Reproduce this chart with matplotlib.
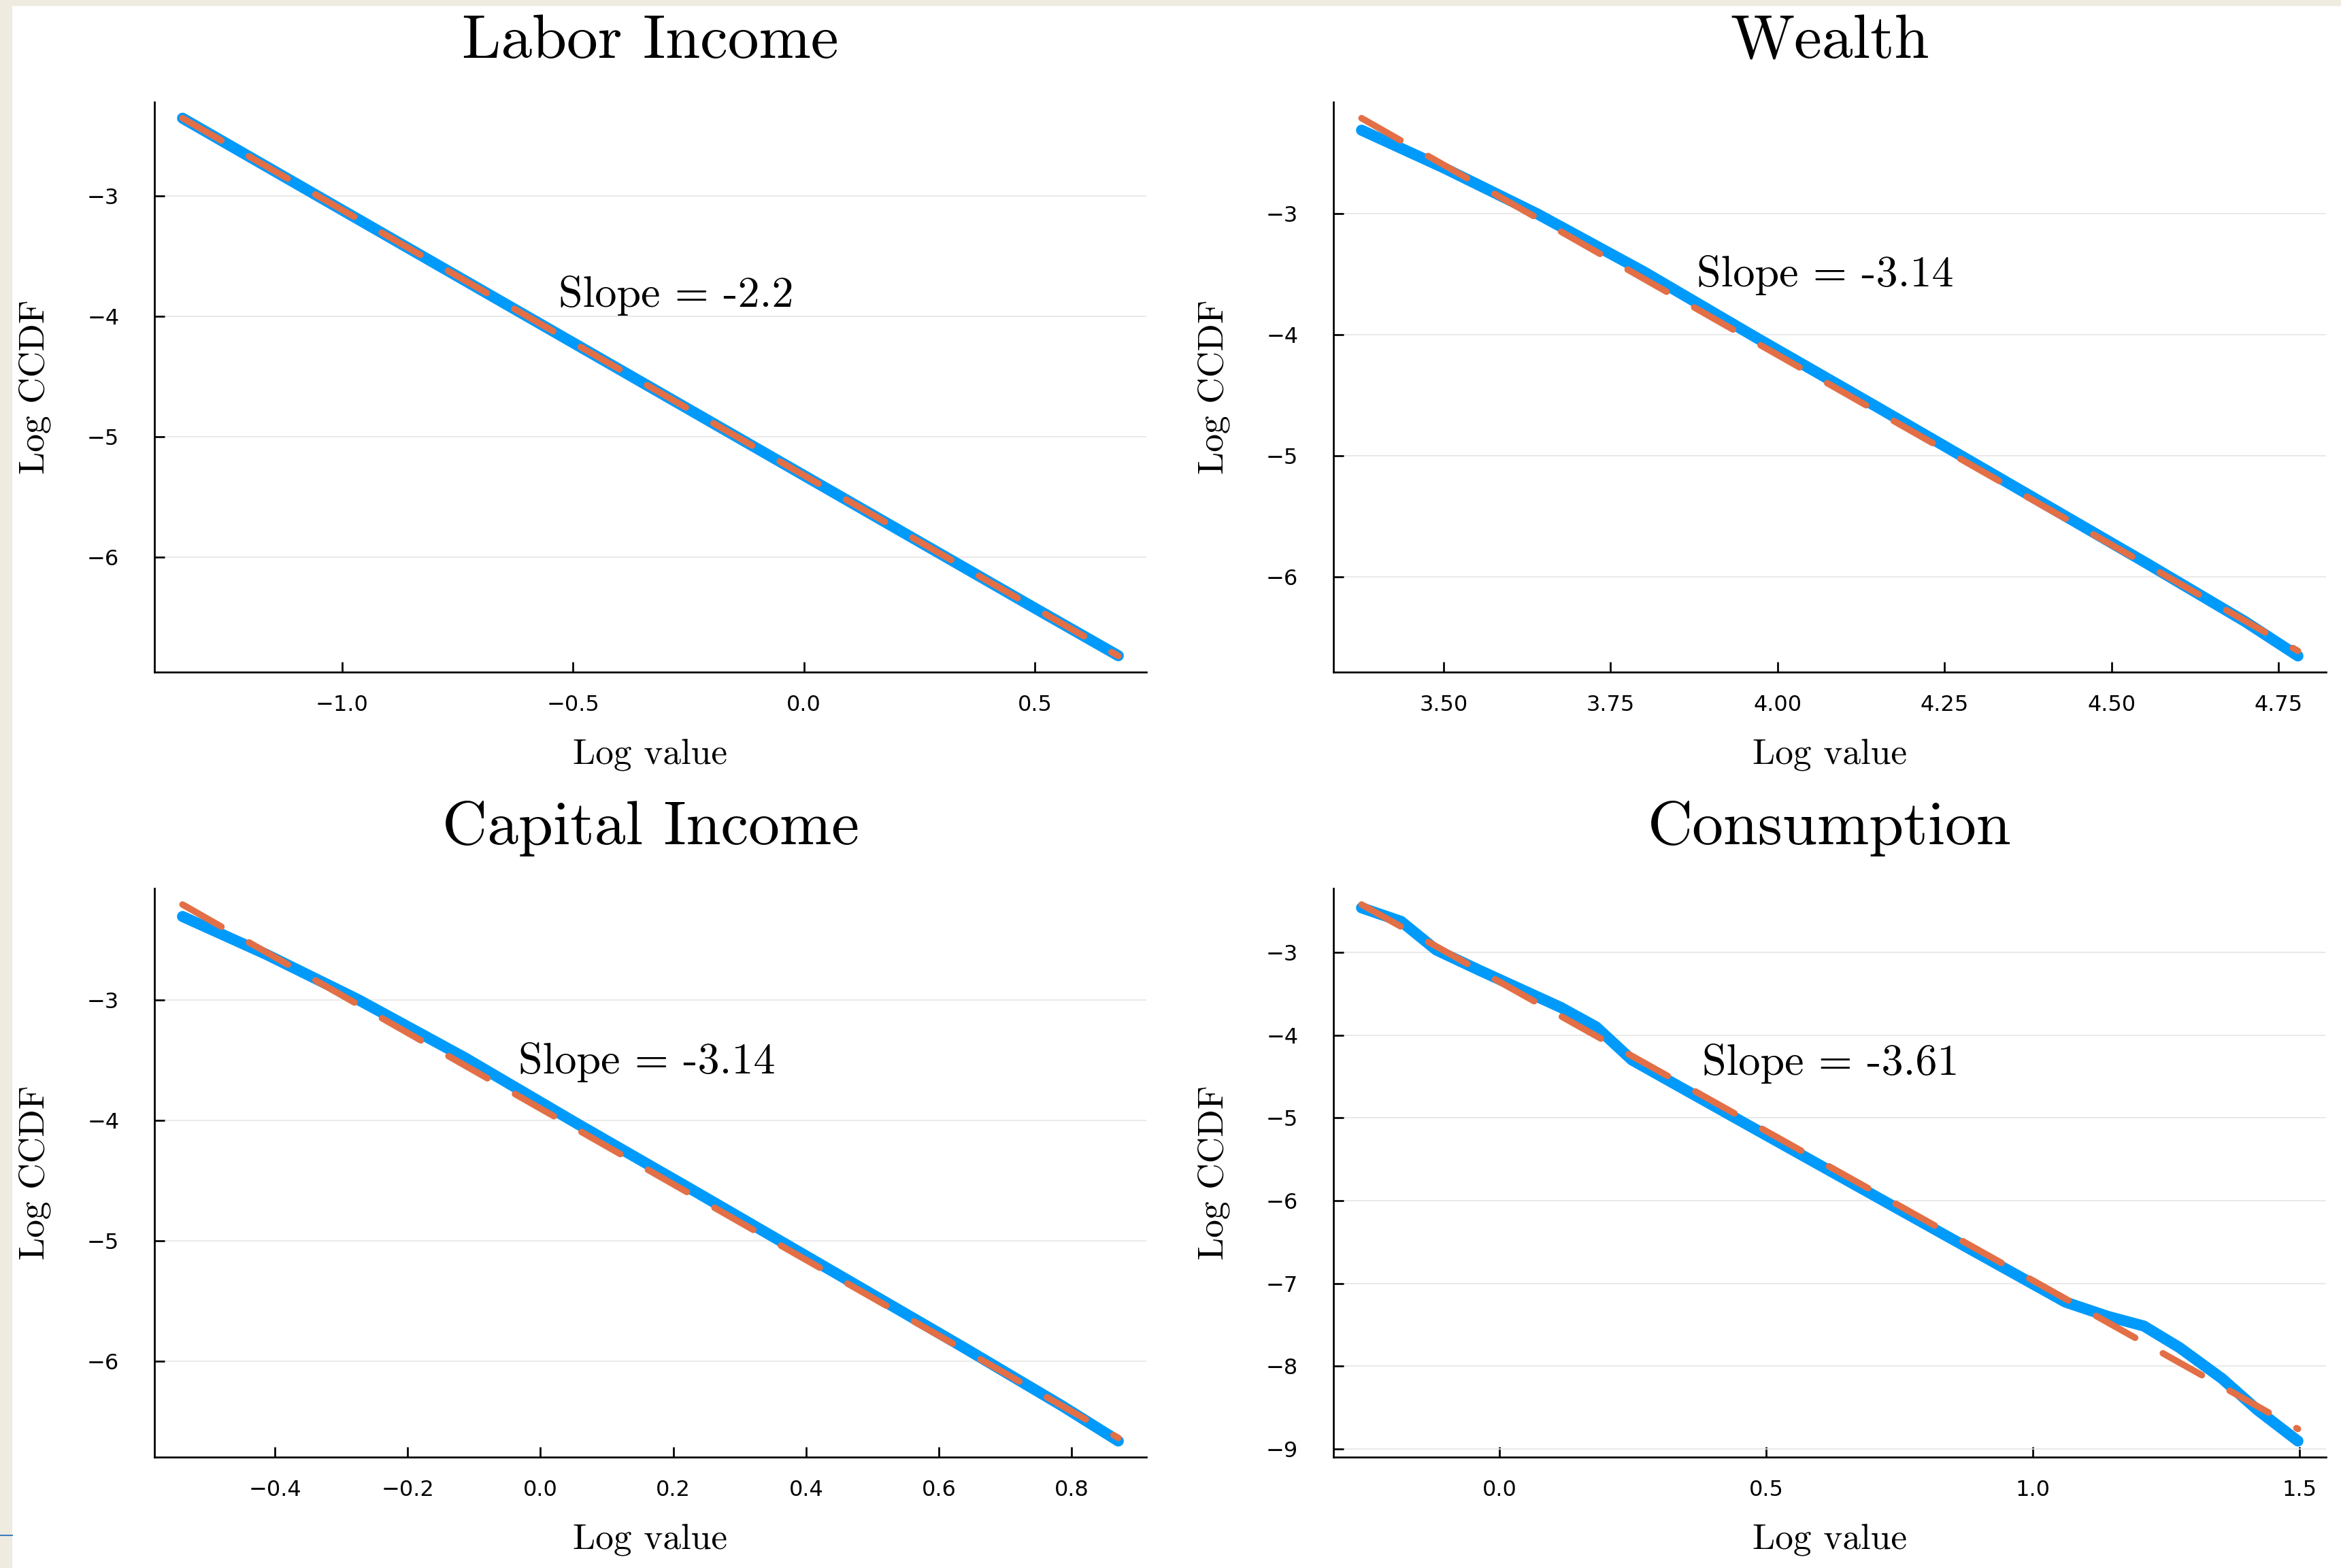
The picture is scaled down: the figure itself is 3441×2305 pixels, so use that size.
import matplotlib.pyplot as plt
from matplotlib.lines import Line2D
from matplotlib.patches import Rectangle

# log value / log CCDF of the simulated cross-section
labor_x = [-1.346, -1.0, -0.5, 0.0, 0.5, 0.681]
labor_y = [-2.358, -3.12, -4.22, -5.32, -6.42, -6.815]

wealth_x = [3.377, 3.50, 3.64, 3.80, 3.97, 4.15, 4.35, 4.55, 4.70, 4.779]
wealth_y = [-2.309, -2.62, -3.00, -3.48, -4.03, -4.60, -5.24, -5.88, -6.37, -6.654]

capital_x = [-0.539, -0.414, -0.274, -0.114, 0.056, 0.236, 0.436, 0.636, 0.786, 0.870]
capital_y = [-2.309, -2.62, -3.00, -3.48, -4.03, -4.60, -5.24, -5.88, -6.37, -6.66]

cons_x = [-0.259, -0.185, -0.119, -0.04, 0.115, 0.181, 0.248, 0.45, 0.65, 0.85,
          1.061, 1.141, 1.208, 1.275, 1.355, 1.421, 1.497]
cons_y = [-2.461, -2.624, -2.97, -3.21, -3.666, -3.90, -4.30, -5.03, -5.75, -6.47,
          -7.227, -7.40, -7.516, -7.777, -8.153, -8.53, -8.906]

# fitted tail lines: slope and intercept
slopes = [-2.2, -3.14, -3.14, -3.61]
intercepts = [-5.319, 8.394, -3.902, -3.356]

titles = ["Labor Income", "Wealth", "Capital Income", "Consumption"]
annot_pos = [(-0.277, -3.827), (4.071, -3.506), (0.160, -3.519), (0.621, -4.344)]
xticks = [[-1.0, -0.5, 0.0, 0.5],
          [3.50, 3.75, 4.00, 4.25, 4.50, 4.75],
          [-0.4, -0.2, 0.0, 0.2, 0.4, 0.6, 0.8],
          [0.0, 0.5, 1.0, 1.5]]
xtick_fmt = ["{:.1f}", "{:.2f}", "{:.1f}", "{:.1f}"]
yticks = [[-3, -4, -5, -6], [-3, -4, -5, -6], [-3, -4, -5, -6],
          [-3, -4, -5, -6, -7, -8, -9]]

series = [(labor_x, labor_y), (wealth_x, wealth_y),
          (capital_x, capital_y), (cons_x, cons_y)]

BLUE = "#009AFA"
ORANGE = "#E26F46"
SERIF = "cmr10"

plt.rcParams["lines.scale_dashes"] = False
plt.rcParams["axes.unicode_minus"] = True

W, H = 3441, 2305
fig = plt.figure(figsize=(W / 300, H / 300), dpi=300, facecolor="#EFEBE0")
fig.add_artist(Rectangle((17.5 / W, 0), 1, 1 - 8.5 / H, transform=fig.transFigure,
                         facecolor="white", edgecolor="none", zorder=-10))
fig.add_artist(Line2D([0, 17.5 / W], [1 - 2256.5 / H] * 2, transform=fig.transFigure,
                      color="#3a7fc0", lw=0.5))

lefts = [227 / W, 1960 / W]
widths = [1458 / W, 1459 / W]
bottoms = [1 - 988 / H, 1 - 2142 / H]
heights = [838 / H, 836 / H]

for i in range(4):
    r, c = divmod(i, 2)
    ax = fig.add_axes([lefts[c], bottoms[r], widths[c], heights[r]])
    x, y = series[i]
    ax.plot(x, y, color=BLUE, lw=3.9, solid_capstyle="round", solid_joinstyle="round")
    fx = [x[0], x[-1]]
    fy = [intercepts[i] + slopes[i] * v for v in fx]
    ax.plot(fx, fy, color=ORANGE, lw=2.3, dashes=(15.8, 11.2), dash_capstyle="round")
    ax.margins(0.03)

    ax.text(*annot_pos[i], f"Slope = {slopes[i]}", family=SERIF, fontsize=15.4,
            ha="center", va="center")
    ax.set_title(titles[i], family=SERIF, fontsize=22, pad=15.5)
    ax.set_xlabel("Log value", family=SERIF, fontsize=12.8, labelpad=8.3)
    ax.set_ylabel("Log CCDF", family=SERIF, fontsize=12.8, labelpad=12.8)

    ax.set_xticks(xticks[i])
    ax.set_xticklabels([xtick_fmt[i].format(v).replace("-", "\u2212") for v in xticks[i]])
    ax.set_yticks(yticks[i])
    ax.set_yticklabels([f"{v}".replace("-", "\u2212") for v in yticks[i]])
    ax.tick_params(direction="in", length=3.6, width=0.65, labelsize=7.7, color="black")
    ax.tick_params(axis="x", pad=8)
    ax.tick_params(axis="y", pad=12.4)

    ax.grid(axis="y", color="#e5e5e5", lw=0.4)
    ax.set_axisbelow(True)
    for side in ("top", "right"):
        ax.spines[side].set_visible(False)
    for side in ("left", "bottom"):
        ax.spines[side].set_linewidth(0.65)

fig.savefig("out.png", dpi=300, facecolor=fig.get_facecolor())
